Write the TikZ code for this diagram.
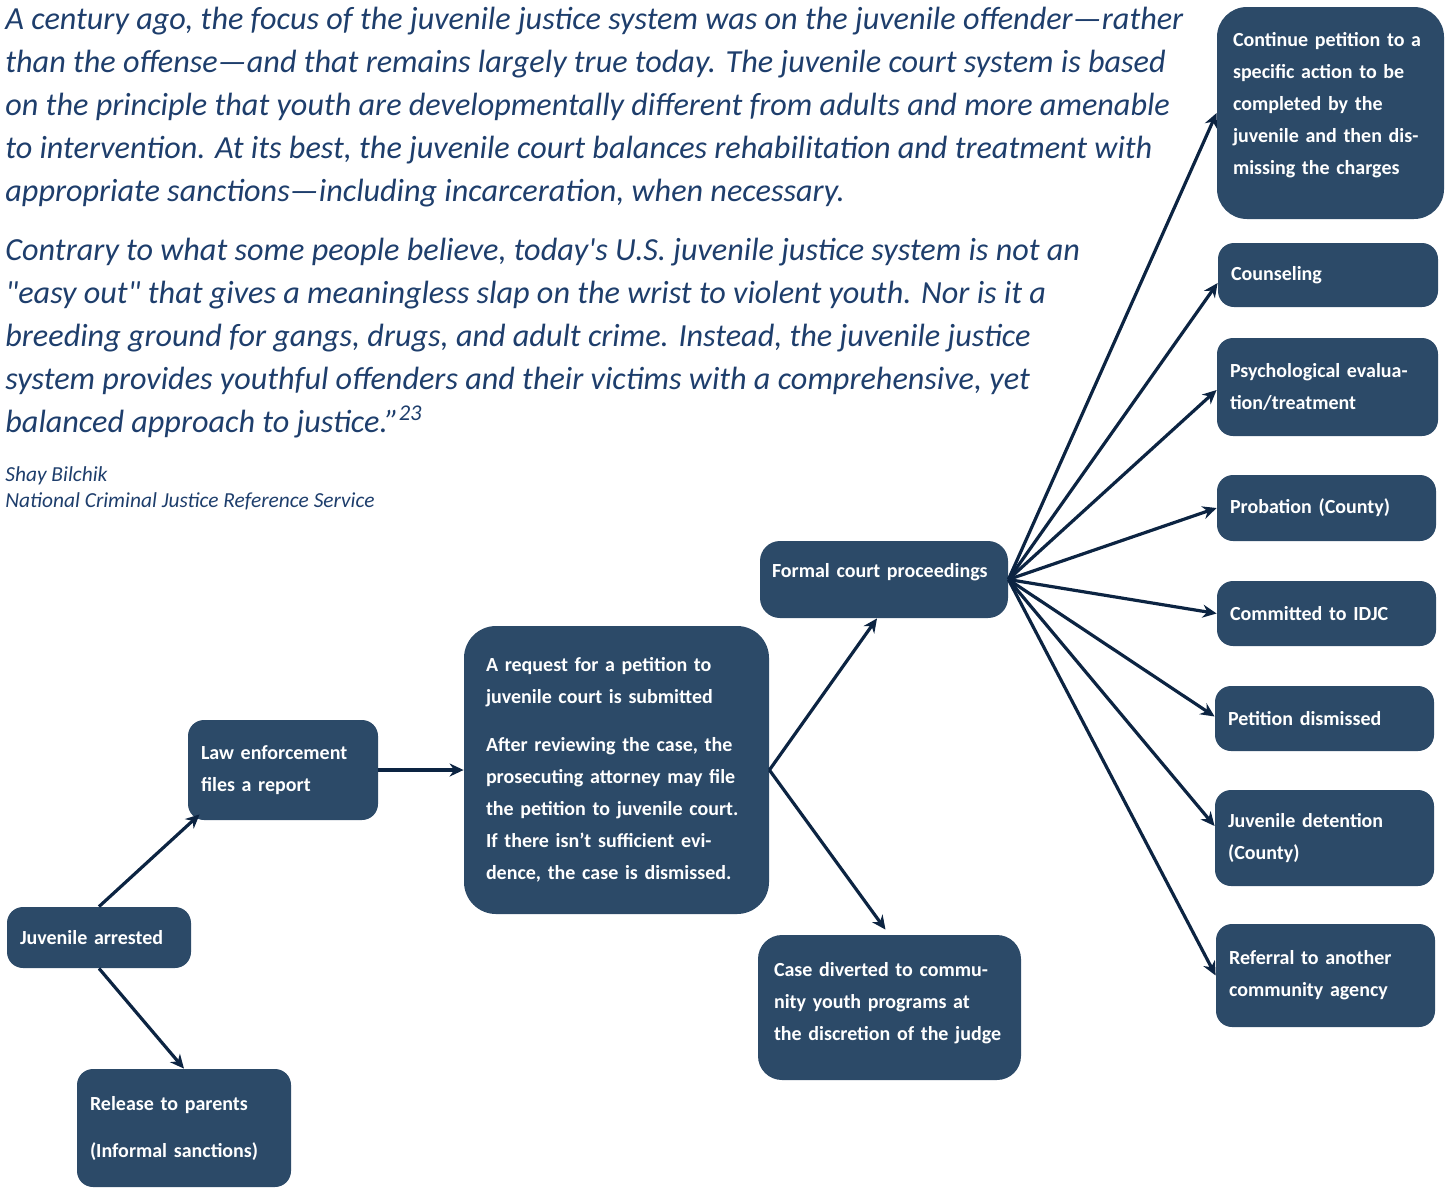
\documentclass[tikz,border=0pt]{standalone}
\usepackage{fontspec}
\setmainfont{Carlito}
\usetikzlibrary{arrows.meta,positioning}

\definecolor{boxblue}{RGB}{44,74,104}
\definecolor{quoteblue}{RGB}{30,62,108}
\definecolor{arrowblue}{RGB}{12,36,66}

\begin{document}
\begin{tikzpicture}[
    x=0.5pt, y=-0.5pt,
    >={Stealth[length=7pt,width=6.5pt]},
    stepbox/.style={
        rounded corners=8pt,
        fill=boxblue,
        text=white,
        inner xsep=6.5pt,
        inner ysep=0pt,
        align=left,
        font=\bfseries\fontsize{10}{16}\selectfont
    },
    quote/.style={
        anchor=north west,
        inner sep=0pt,
        align=left,
        text=quoteblue,
        font=\itshape\fontsize{16.1}{21.5}\selectfont
    },
    link/.style={->, line width=1.6pt, draw=arrowblue}
]
\useasboundingbox (0,0) rectangle (1449,1189);

% quotation
\node[quote] (para1) at (5,7) {A century ago, the focus of the juvenile justice system was on the juvenile offender---rather\\
than the offense---and that remains largely true today. The juvenile court system is based\\
on the principle that youth are developmentally different from adults and more amenable\\
to intervention. At its best, the juvenile court balances rehabilitation and treatment with\\
appropriate sanctions---including incarceration, when necessary.};
\node[quote] (para2) at (5,238) {Contrary to what some people believe, today\textquotesingle s U.S. juvenile justice system is not an\\
\textquotedbl easy out\textquotedbl{} that gives a meaningless slap on the wrist to violent youth. Nor is it a\\
breeding ground for gangs, drugs, and adult crime. Instead, the juvenile justice\\
system provides youthful offenders and their victims with a comprehensive, yet\\
balanced approach to justice.”\textsuperscript{23}};
\node[quote, font=\itshape\fontsize{10.7}{13}\selectfont] (source) at (5,466) {Shay Bilchik\\
National Criminal Justice Reference Service};

% left part of the flow
\node[stepbox, text width=79pt, minimum height=30.5pt] (arrested) at (99,937.5) {Juvenile arrested};
\node[stepbox, text width=94pt, minimum height=59pt] (release) at (184,1128) {Release to parents\\[7.5pt] (Informal sanctions)};
\node[stepbox, text width=82pt, minimum height=50pt] (law) at (283,770) {Law enforcement\\ files a report};
\node[stepbox, rounded corners=16pt, inner xsep=11pt, text width=130.5pt, minimum height=144pt] (request) at (616.5,770) {A request for a petition to\\ juvenile court is submitted\\[8pt]
After reviewing the case, the\\ prosecuting attorney may file\\ the petition to juvenile court.\\ If there isn't sufficient evi-\\ dence, the case is dismissed.};
\node[stepbox, rounded corners=10pt, inner xsep=6pt, text width=112pt, minimum height=38.5pt, text depth=9pt] (formal) at (884,579.5) {Formal court proceedings};
\node[stepbox, rounded corners=12pt, inner xsep=8pt, text width=115.5pt, minimum height=72.5pt, text depth=38pt] (case) at (889.5,1007.5) {Case diverted to commu-\\ nity youth programs at\\ the discretion of the judge};

% outcomes of the court
\node[stepbox, rounded corners=15pt, inner xsep=8pt, text width=97.5pt, minimum height=106pt, text depth=74pt] (cont) at (1330.5,113) {Continue petition to a\\ specific action to be\\ completed by the\\ juvenile and then dis-\\ missing the charges};
\node[stepbox, text width=97pt, minimum height=32pt] (couns) at (1328,275) {Counseling};
\node[stepbox, text width=97.5pt, minimum height=49pt] (psych) at (1327.5,387) {Psychological evalua-\\ tion/treatment};
\node[stepbox, text width=96.5pt, minimum height=33pt] (prob) at (1326.5,508) {Probation (County)};
\node[stepbox, text width=96.5pt, minimum height=32.5pt] (idjc) at (1326.5,613.5) {Committed to IDJC};
\node[stepbox, text width=96.5pt, minimum height=32.5pt] (dism) at (1324.5,718.5) {Petition dismissed};
\node[stepbox, text width=96.5pt, minimum height=48pt] (detent) at (1324.5,838) {Juvenile detention\\ (County)};
\node[stepbox, text width=96.5pt, minimum height=51.5pt] (refer) at (1325.5,975.5) {Referral to another\\ community agency};

\draw[link] (arrested.north) -- ([xshift=6pt,yshift=3pt]law.south west);
\draw[link] (arrested.south) -- (release.north);
\draw[link] (law.east) -- (request.west);
\draw[link] (request.east) -- ([xshift=-3.5pt]formal.south);
\draw[link] (request.east) -- ([xshift=-2pt,yshift=2.5pt]case.north);

\draw[link] (formal.east) -- (cont.west);
\draw[link] (formal.east) -- ([yshift=-4pt]couns.west);
\draw[link] (formal.east) -- ([yshift=-1.5pt]psych.west);
\draw[link] (formal.east) -- (prob.west);
\draw[link] (formal.east) -- (idjc.west);
\draw[link] (formal.east) -- ([yshift=1pt]dism.west);
\draw[link] (formal.east) -- ([yshift=6pt]detent.west);
\draw[link] (formal.east) -- (refer.west);
\end{tikzpicture}
\end{document}
